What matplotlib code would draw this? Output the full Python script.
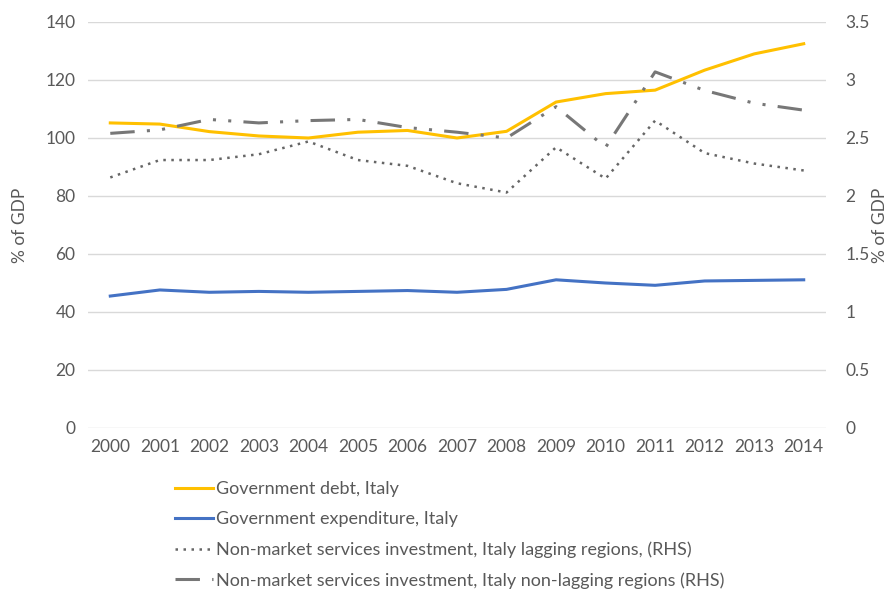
import numpy as np
import matplotlib.pyplot as plt

years = list(range(2000, 2015))
debt = [105.2, 104.8, 102.2, 100.7, 100.0, 102.0, 102.6, 100.0, 102.3, 112.4, 115.3, 116.5, 123.4, 129.0, 132.5]
expenditure = [45.5, 47.6, 46.8, 47.1, 46.8, 47.1, 47.4, 46.8, 47.8, 51.1, 50.0, 49.2, 50.7, 50.9, 51.1]
lagging = [2.16, 2.31, 2.31, 2.36, 2.47, 2.31, 2.26, 2.11, 2.03, 2.42, 2.15, 2.65, 2.37, 2.28, 2.22]
non_lagging = [2.54, 2.57, 2.66, 2.63, 2.65, 2.66, 2.59, 2.55, 2.50, 2.77, 2.42, 3.07, 2.91, 2.80, 2.74]

plt.rcParams['font.family'] = ['Lato', 'DejaVu Sans']
txt = '#595959'
fs = 12.5

fig = plt.figure(figsize=(8.94, 5.95), dpi=100)
ax = fig.add_axes([88/894, 1-428/595, (826-88)/894, (428-22)/595])
ax2 = ax.twinx()

l1, = ax.plot(years, debt, color='#FFC000', lw=2.2, label='Government debt, Italy', zorder=3)
l2, = ax.plot(years, expenditure, color='#4472C4', lw=2.2, label='Government expenditure, Italy', zorder=3)
l3, = ax2.plot(years, lagging, color='#666666', lw=1.8, linestyle=(0, (1, 2.2)),
               label='Non-market services investment, Italy lagging regions, (RHS)')
l4, = ax2.plot(years, non_lagging, color='#777777', lw=2.2, linestyle=(0, (8, 4, 1, 4, 1, 4)),
               label='Non-market services investment, Italy non-lagging regions (RHS)')

ax.set_xlim(1999.55, 2014.45)
ax.set_ylim(0, 140)
ax2.set_ylim(0, 3.5)
ax.set_yticks(np.arange(0, 141, 20))
ax2.set_yticks(np.arange(0, 3.6, 0.5))
ax2.set_yticklabels(['0', '0.5', '1', '1.5', '2', '2.5', '3', '3.5'])
ax.set_xticks(years)
ax.grid(axis='y', color='#D9D9D9', lw=1)
ax.set_axisbelow(True)
for a in (ax, ax2):
    for s in a.spines.values():
        s.set_visible(False)
    a.tick_params(length=0, labelsize=fs, colors=txt)
ax.tick_params(axis='y', pad=9)
ax2.tick_params(axis='y', pad=14)
ax.tick_params(axis='x', pad=8)
ax.set_ylabel('% of GDP', fontsize=fs, color=txt)
ax.yaxis.set_label_coords(-(88 - 28) / 738, 0.5)
ax2.set_ylabel('% of GDP', fontsize=fs, color=txt, rotation=90)
ax2.yaxis.set_label_coords(1 + (872 - 826) / 738, 0.5)

leg = fig.legend(handles=[l1, l2, l3, l4], loc='upper left', bbox_to_anchor=(168/894, 1-474/595),
                 frameon=False, fontsize=13, handlelength=2.1, handletextpad=0.15,
                 labelspacing=0.78, labelcolor=txt, borderaxespad=0)

fig.savefig('out.png', dpi=100)
